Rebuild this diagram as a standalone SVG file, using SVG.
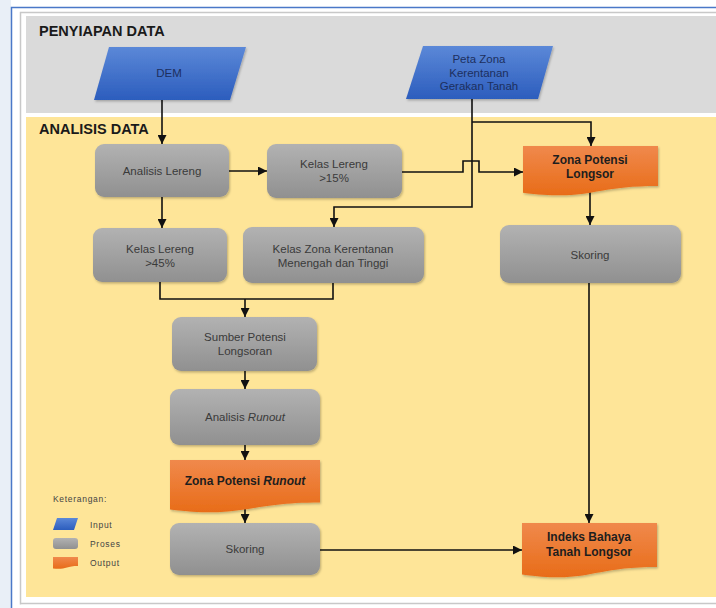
<svg xmlns="http://www.w3.org/2000/svg" width="716" height="608" viewBox="0 0 716 608">
<defs>
<linearGradient id="gGray" x1="0" y1="0" x2="0" y2="1"><stop offset="0" stop-color="#b2b2b2"/><stop offset="1" stop-color="#909090"/></linearGradient>
<linearGradient id="gBlue" x1="0" y1="0" x2="0" y2="1"><stop offset="0" stop-color="#5b88d8"/><stop offset="1" stop-color="#2c5dbd"/></linearGradient>
<linearGradient id="gOrange" x1="0" y1="0" x2="0" y2="1"><stop offset="0" stop-color="#f0894c"/><stop offset="1" stop-color="#e86c18"/></linearGradient>
<filter id="sh" x="-10%" y="-10%" width="120%" height="130%"><feDropShadow dx="1" dy="1.5" stdDeviation="1.2" flood-color="#000" flood-opacity="0.25"/></filter>
<marker id="arr" viewBox="0 0 10 10" refX="10" refY="5" markerWidth="10" markerHeight="9" markerUnits="userSpaceOnUse" orient="auto"><path d="M0,0 L10,5 L0,10 z" fill="#111"/></marker>
<style>
.proc{fill:url(#gGray);filter:url(#sh)}
.inp{fill:url(#gBlue);filter:url(#sh)}
.out{fill:url(#gOrange);filter:url(#sh)}
.t{font-family:"Liberation Sans",Arial,sans-serif;font-size:11.5px;fill:#3a3a3a;text-anchor:middle}
.ti{font-family:"Liberation Sans",Arial,sans-serif;font-size:11.5px;fill:#1d2f5e;text-anchor:middle}
.tb{font-family:"Liberation Sans",Arial,sans-serif;font-size:12px;font-weight:bold;fill:#1e1e1e;text-anchor:middle}
.hd{font-family:"Liberation Sans",Arial,sans-serif;font-size:14.5px;font-weight:bold;fill:#1a1a1a}
.lg{font-family:"Liberation Sans",Arial,sans-serif;font-size:8.5px;letter-spacing:0.7px;fill:#444}
.c{fill:none;stroke:#111;stroke-width:1.6}
</style>
</defs>
<rect x="0" y="0" width="716" height="608" fill="#ffffff"/>
<rect x="0" y="0" width="11" height="608" fill="#e9eff7"/>
<path d="M11.5,608 V7.5 H716" fill="none" stroke="#4a78c8" stroke-width="1.5"/>
<path d="M20.5,604.5 V12.5 H716 M20.5,603.5 H716" fill="none" stroke="#c8c8c8" stroke-width="1.5"/>
<rect x="26" y="16" width="690" height="97" fill="#dadada"/>
<rect x="26" y="117" width="690" height="480" fill="#fee598"/>
<text class="hd" x="39" y="36">PENYIAPAN DATA</text>
<text class="hd" x="39" y="134">ANALISIS DATA</text>

<g id="connectors">
<path class="c" d="M162,100 V144" marker-end="url(#arr)"/>
<path class="c" d="M229,171 H267" marker-end="url(#arr)"/>
<path class="c" d="M162,197 V228" marker-end="url(#arr)"/>
<path class="c" d="M402,172 H463 V161 H479 V172 H523" marker-end="url(#arr)"/>
<path class="c" d="M472,99 V207 H334 V227" marker-end="url(#arr)"/>
<path class="c" d="M472,122 H591 V146" marker-end="url(#arr)"/>
<path class="c" d="M160,282 V299 H333 V283"/>
<path class="c" d="M245,299 V317" marker-end="url(#arr)"/>
<path class="c" d="M245,371 V389" marker-end="url(#arr)"/>
<path class="c" d="M245,445 V460" marker-end="url(#arr)"/>
<path class="c" d="M245,507 V523" marker-end="url(#arr)"/>
<path class="c" d="M590,189 V225" marker-end="url(#arr)"/>
<path class="c" d="M589,283 V523" marker-end="url(#arr)"/>
<path class="c" d="M320,550 H522" marker-end="url(#arr)"/>
</g>

<g id="dem">
<path class="inp" d="M109,47 H246 L230,100 H94 Z"/>
<text class="ti" x="169" y="77">DEM</text>
</g>
<g id="peta-zona">
<path class="inp" d="M423,46 H553 L538,99 H406 Z"/>
<text class="ti" x="479" y="63">Peta Zona</text>
<text class="ti" x="479" y="76.5">Kerentanan</text>
<text class="ti" x="479" y="90">Gerakan Tanah</text>
</g>
<g id="analisis-lereng">
<rect class="proc" x="95" y="144" width="134" height="53" rx="9"/>
<text class="t" x="162" y="175">Analisis Lereng</text>
</g>
<g id="kelas-lereng-15">
<rect class="proc" x="267" y="144" width="135" height="54" rx="9"/>
<text class="t" x="334" y="168">Kelas Lereng</text>
<text class="t" x="334" y="182">&gt;15%</text>
</g>
<g id="zona-potensi-longsor">
<path class="out" d="M523,146 H658 V186 C590.5,186 590.5,201.4 523,192.7 Z"/>
<text class="tb" x="590" y="164">Zona Potensi</text>
<text class="tb" x="590" y="178">Longsor</text>
</g>
<g id="kelas-lereng-45">
<rect class="proc" x="93" y="228" width="134" height="54" rx="9"/>
<text class="t" x="160" y="253">Kelas Lereng</text>
<text class="t" x="160" y="267">&gt;45%</text>
</g>
<g id="kelas-zona">
<rect class="proc" x="243" y="227" width="181" height="56" rx="9"/>
<text class="t" x="333" y="253">Kelas Zona Kerentanan</text>
<text class="t" x="333" y="267">Menengah dan Tinggi</text>
</g>
<g id="skoring-kanan">
<rect class="proc" x="500" y="225" width="181" height="58" rx="9"/>
<text class="t" x="590" y="259">Skoring</text>
</g>
<g id="sumber-potensi">
<rect class="proc" x="172" y="317" width="145" height="54" rx="9"/>
<text class="t" x="245" y="341">Sumber Potensi</text>
<text class="t" x="245" y="355">Longsoran</text>
</g>
<g id="analisis-runout">
<rect class="proc" x="170" y="389" width="150" height="56" rx="9"/>
<text class="t" x="245" y="421">Analisis <tspan font-style="italic">Runout</tspan></text>
</g>
<g id="zona-potensi-runout">
<path class="out" d="M170,460 H320 V502.5 C245,502.5 245,518.7 170,509.5 Z"/>
<text class="tb" x="245" y="485">Zona Potensi <tspan font-style="italic">Runout</tspan></text>
</g>
<g id="skoring-kiri">
<rect class="proc" x="170" y="523" width="150" height="52" rx="9"/>
<text class="t" x="245" y="553">Skoring</text>
</g>
<g id="indeks-bahaya">
<path class="out" d="M522,523 H657 V567 C589.5,567 589.5,583.9 522,574.4 Z"/>
<text class="tb" x="589" y="541">Indeks Bahaya</text>
<text class="tb" x="589" y="556">Tanah Longsor</text>
</g>
<g id="legend">
<text class="lg" x="53" y="502">Keterangan:</text>
<path d="M57,518 H78 L74,530 H53 Z" fill="url(#gBlue)"/>
<text class="lg" x="90" y="528">Input</text>
<rect x="53" y="538" width="25" height="11" rx="3" fill="url(#gGray)"/>
<text class="lg" x="90" y="547">Proses</text>
<path d="M53,557 H78 V566 C65.5,566 65.5,570 53,568.5 Z" fill="url(#gOrange)"/>
<text class="lg" x="90" y="566">Output</text>
</g>
</svg>
